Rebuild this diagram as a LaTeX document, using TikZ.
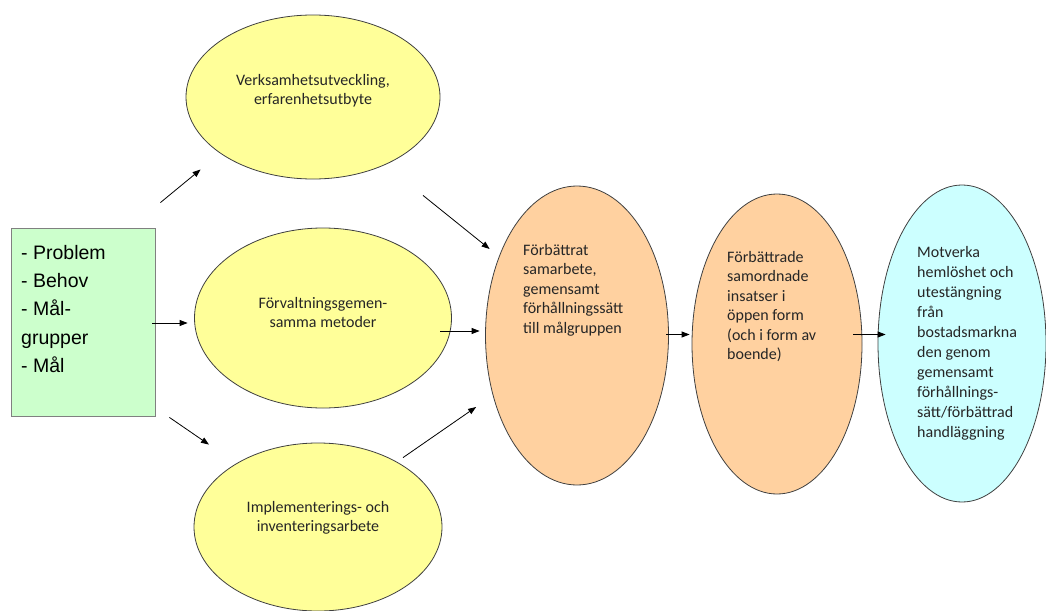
\documentclass[tikz,border=0pt]{standalone}
\usepackage{fontspec}
\usepackage{tikz}
\usetikzlibrary{shapes.geometric,arrows.meta}
\newfontfamily\calibri{Carlito}
\newfontfamily\arial{Liberation Sans}
\definecolor{boxgreen}{RGB}{204,255,204}
\definecolor{ellyellow}{RGB}{255,255,153}
\definecolor{ellorange}{RGB}{255,209,160}
\definecolor{ellblue}{RGB}{204,255,255}

\begin{document}
\begin{tikzpicture}[x=1pt,y=-1pt,>={Triangle[length=8pt,width=6pt]}]
  \tikzstyle{oval}=[ellipse, draw=black!75, line width=0.8pt, inner sep=0pt]
  \tikzstyle{ctext}=[align=center, inner sep=0pt, text=black!85,
font=\calibri\fontsize{16}{19}\selectfont]
  \tikzstyle{ltext}=[align=left, anchor=north west, inner sep=0pt, text=black!85,
font=\calibri\fontsize{16}{19.5}\selectfont]
  \tikzstyle{pil}=[->, line width=0.8pt]
  \useasboundingbox (0,0) rectangle (1046,610);

  \node[rectangle, draw=black!50, fill=boxgreen, line width=0.8pt,
minimum width=144pt, minimum height=188pt] (P) at (83,322) {};
  \node[align=left, anchor=north west, inner sep=0pt,
font=\arial\fontsize{19.5}{28.3}\selectfont] (P_t) at (21,245)
{- Problem\\- Behov\\- Mål-\\grupper\\- Mål};

  \node[oval, fill=ellyellow, minimum width=254pt, minimum height=164pt] (A_1) at (313,97) {};
  \node[ctext] (A_1t) at (313,91) {Verksamhetsutveckling,\\erfarenhetsutbyte};
  \node[oval, fill=ellyellow, minimum width=257pt, minimum height=180pt] (A_2) at (323,318) {};
  \node[ctext] (A_2t) at (323,312.5) {Förvaltningsgemen-\\samma metoder};
  \node[oval, fill=ellyellow, minimum width=248pt, minimum height=168pt] (A_3) at (318,527) {};
  \node[ctext] (A_3t) at (318,517.5) {Implementerings- och\\inventeringsarbete};

  \node[oval, fill=ellorange, minimum width=183pt, minimum height=299pt] (E_1) at (577,335.5) {};
  \node[ltext] (E_1t) at (523,244)
{Förbättrat\\samarbete,\\gemensamt\\förhållningssätt\\till målgruppen};
  \node[oval, fill=ellorange, minimum width=170pt, minimum height=300pt] (E_2) at (777,344) {};
  \node[ltext] (E_2t) at (727,251)
{Förbättrade\\samordnade\\insatser i\\öppen form\\(och i form av\\boende)};
  \node[oval, fill=ellblue, minimum width=168pt, minimum height=317pt] (M) at (962,343.5) {};
  \node[ltext, font=\calibri\fontsize{16}{20}\selectfont] (M_t) at (917,246)
{Motverka\\hemlöshet och\\utestängning\\från\\bostadsmarkna\\den genom\\gemensamt\\förhållnings-\\sätt/förbättrad\\handläggning};

  \draw[pil] ([shift={(5,-25)}]P.north east) -- ([shift={(15,72.5)}]A_1.west);
  \draw[pil] ([shift={(-3,1)}]P.east) -- ([shift={(-6.5,5)}]A_2.west);
  \draw[pil] ([shift={(14,1)}]P.south east) -- ([shift={(-109,2)}]A_3.north);

  \draw[pil] ([shift={(110,16)}]A_1.south) -- ([shift={(4.5,-86.5)}]E_1.west);
  \draw[pil] ([shift={(-11.5,13)}]A_2.east) -- ([shift={(-5.5,-4.5)}]E_1.west);
  \draw[pil] ([shift={(85,15)}]A_3.north) -- ([shift={(-9,71.5)}]E_1.west);

  \draw[pil] ([shift={(-2.5,-1)}]E_1.east) -- ([shift={(-2,-9.5)}]E_2.west);
  \draw[pil] ([shift={(-9,-9.5)}]E_2.east) -- ([shift={(8,-9)}]M.west);
\end{tikzpicture}
\end{document}
